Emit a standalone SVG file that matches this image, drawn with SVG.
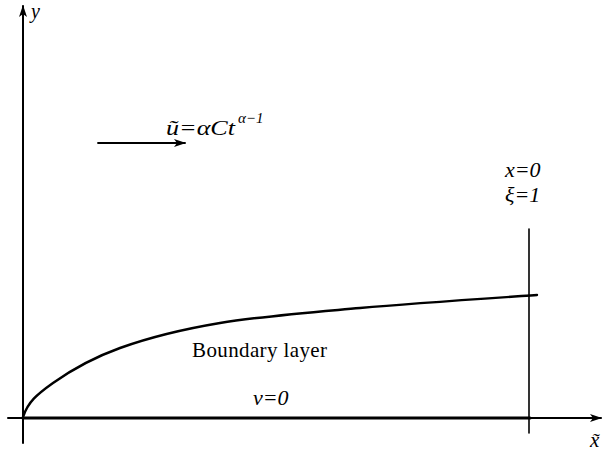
<svg xmlns="http://www.w3.org/2000/svg" width="603" height="455" viewBox="0 0 603 455">
<defs>
<style>
.ln{stroke:#000;fill:none;stroke-linecap:round}
text{font-family:'Liberation Serif','DejaVu Serif',serif;fill:#000}
.i{font-style:italic}
</style>
<marker id="ah" viewBox="0 0 12 8" refX="11" refY="4" markerWidth="12" markerHeight="8" markerUnits="userSpaceOnUse" orient="auto">
<path d="M0,0 L12,4 L0,8 L3,4 Z" fill="#000"/>
</marker>
</defs>
<rect width="603" height="455" fill="#fff"/>
<g id="connectors">
<line id="y-axis" class="ln" x1="23" y1="443" x2="23" y2="6" stroke-width="2" marker-end="url(#ah)"/>
<line id="x-axis" class="ln" x1="8" y1="418" x2="601" y2="418" stroke-width="2" marker-end="url(#ah)"/>
<line id="wall" class="ln" x1="23" y1="418" x2="530" y2="418" stroke-width="3.2"/>
<line id="station" class="ln" x1="529" y1="229" x2="529" y2="433" stroke-width="1.6"/>
<line id="flow-arrow" class="ln" x1="98" y1="143" x2="185" y2="143" stroke-width="1.8" marker-end="url(#ah)"/>
<path id="bl-edge" class="ln" stroke-width="2.4" d="M23,417 C28,402 36.8,394.5 53,383 C69.2,371.5 92.2,358 120,348 C147.8,338 180,329.7 220,323 C260,316.3 307.2,312.7 360,308 C412.8,303.3 478,299 537,295"/>
</g>
<g id="label-y"><text class="i" x="31" y="18" font-size="20">y</text></g>
<g id="label-u"><text class="i" x="166" y="135" font-size="21" textLength="69" lengthAdjust="spacingAndGlyphs">ũ=αCt</text><text class="i" x="238" y="123" font-size="15">α−1</text></g>
<g id="label-station"><text class="i" x="505" y="177" font-size="22">x=0</text><text class="i" x="505" y="202" font-size="22">ξ=1</text></g>
<g id="label-bl"><text x="192" y="357" font-size="21" textLength="135">Boundary layer</text></g>
<g id="label-v"><text class="i" x="253" y="405" font-size="22">v=0</text></g>
<g id="label-x"><text class="i" x="590" y="447" font-size="21">x̃</text></g>
</svg>
